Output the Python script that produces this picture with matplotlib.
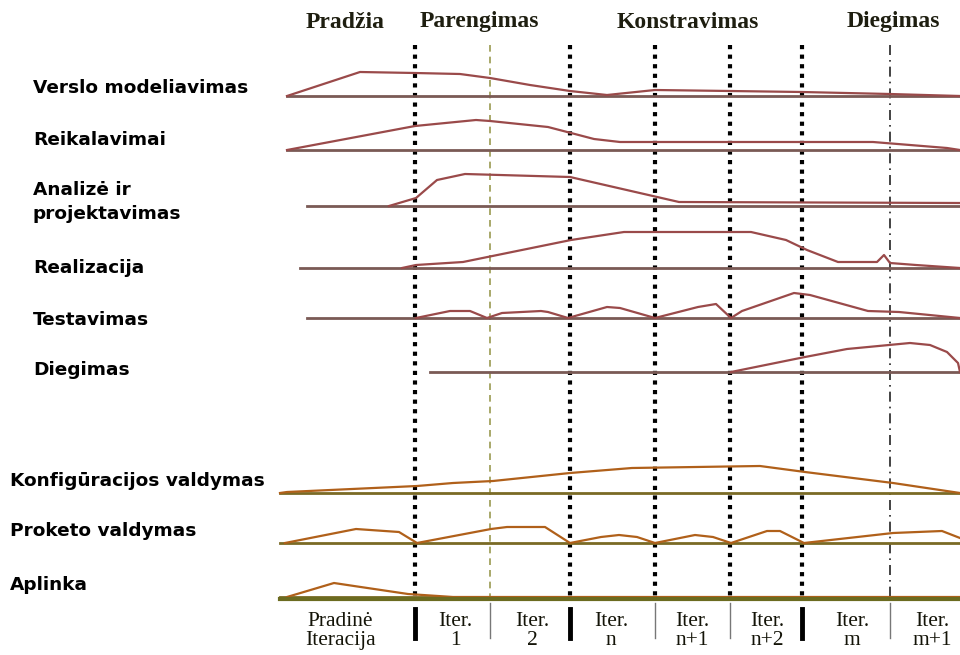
import numpy as np
import matplotlib
matplotlib.use('Agg')
import matplotlib.pyplot as plt

# phases and iterations
phases = ['Pradžia', 'Parengimas', 'Konstravimas', 'Diegimas']
iterations = ['Pradinė\nIteracija', 'Iter.\n1', 'Iter.\n2', 'Iter.\nn', 'Iter.\nn+1',
              'Iter.\nn+2', 'Iter.\nm', 'Iter.\nm+1']

# iteration boundaries (time axis, same units as curves)
bounds_major = [415, 570, 655, 730, 802]
bounds_minor = [490, 890]

# workflow names
workflows = ['Verslo modeliavimas', 'Reikalavimai', 'Analizė ir\nprojektavimas',
             'Realizacija', 'Testavimas', 'Diegimas']
support = ['Konfigūracijos valdymas', 'Proketo valdymas', 'Aplinka']

# effort profiles: time points and effort height
verslo_t = [287, 360, 415, 460, 490, 530, 570, 607, 655, 730, 802, 890, 960]
verslo_e = [0, 24, 23, 22, 18, 11, 5, 1, 6, 5, 4, 2, 0]
reik_t = [287, 415, 476, 490, 548, 571, 594, 620, 873, 947, 960]
reik_e = [0, 24, 30, 29, 23, 17, 11, 8, 8, 2, 0]
anal_t = [389, 416, 437, 465, 570, 679, 960]
anal_e = [0, 8, 26, 32, 29, 4, 3]
real_t = [402, 416, 463, 571, 624, 751, 786, 807, 838, 877, 884, 890, 916, 960]
real_e = [0, 3, 6, 28, 36, 36, 28, 18, 6, 6, 13, 5, 3, 0]
test_t = [416, 450, 470, 487, 502, 541, 548, 568, 607, 620, 655, 698, 716, 731,
          742, 794, 810, 868, 899, 960]
test_e = [0, 7, 7, 0, 5, 7, 6, 0, 11, 10, 0, 11, 14, 0, 7, 25, 23, 7, 6, 0]
dieg_t = [731, 805, 847, 910, 930, 947, 958, 960]
dieg_e = [0, 15, 23, 29, 27, 20, 9, 0]

konf_t = [280, 287, 417, 453, 493, 570, 632, 760, 805, 893, 960]
konf_e = [0, 1, 7, 10, 12, 20, 25, 27, 21, 10, 0]
proj_t = [285, 356, 399, 417, 491, 507, 545, 570, 601, 619, 637, 655, 695, 713,
          731, 767, 780, 804, 893, 942, 960]
proj_e = [0, 14, 11, 0, 14, 16, 16, 0, 6, 8, 6, 0, 8, 6, 0, 12, 12, 0, 10, 12, 5]
apl_t = [287, 334, 354, 408, 453, 960]
apl_e = [0, 14, 11, 3, 0, 0]

# layout
W, H = 960, 655
fig = plt.figure(figsize=(9.6, 6.55), dpi=100)
ax = fig.add_axes([0, 0, 1, 1])
ax.set_xlim(0, W)
ax.set_ylim(H, 0)
ax.axis('off')

serif = 'Liberation Serif'
sans = 'DejaVu Sans'

# vertical iteration lines
for x in bounds_major:
    ax.plot([x, x], [45, 600], color='black', lw=3, ls=(0, (1, 1.3)), zorder=1)
ax.plot([490, 490], [45, 600], color='#9a9a50', lw=1.2, ls=(0, (4, 3)), zorder=1)
ax.plot([890, 890], [45, 600], color='#222222', lw=1.2, ls=(0, (6, 3, 1, 3)), zorder=1)

# phase titles
for name, xc in zip(phases, [345, 479, 688, 893]):
    ax.text(xc, 22, name, ha='center', va='center', fontsize=17,
            fontweight='bold', family=serif, color='#1e1e10')

# main workflows
rows = [(verslo_t, verslo_e, 96, 287), (reik_t, reik_e, 150, 287),
        (anal_t, anal_e, 206, 307), (real_t, real_e, 268, 300),
        (test_t, test_e, 318, 307), (dieg_t, dieg_e, 372, 430)]
label_y = [88, 140, 202, 268, 320, 370]
for (t, e, base, start), name, ly in zip(rows, workflows, label_y):
    ax.plot([start, 960], [base, base], color='#7a5a55', lw=2, zorder=2)
    ax.plot(t, base - np.array(e), color='#9a4a4a', lw=1.6, zorder=3)
    ax.text(33, ly, name, ha='left', va='center', fontsize=13.3,
            fontweight='bold', family=sans, linespacing=1.4)

# supporting workflows
srows = [(konf_t, konf_e, 493), (proj_t, proj_e, 543), (apl_t, apl_e, 597)]
for (t, e, base), name in zip(srows, support):
    ax.plot([280, 960], [base, base], color='#7a6a25', lw=2, zorder=2)
    ax.plot(t, base - np.array(e), color='#b0601a', lw=1.6, zorder=3)
    ax.text(10, base - 12, name, ha='left', va='center', fontsize=13.3,
            fontweight='bold', family=sans)

# bottom axis
ax.plot([280, 960], [599, 599], color='#6b6b20', lw=3, zorder=4)

# iteration separators
for x in [415, 570, 802]:
    ax.plot([x, x], [609, 638], color='black', lw=3.5, zorder=4)
for x in [490, 655, 730, 890]:
    ax.plot([x, x], [603, 638], color='#777777', lw=1, zorder=4)

# iteration labels
for name, xc in zip(iterations, [340, 455, 532, 611, 692, 767, 852, 932]):
    ax.text(xc, 631, name, ha='center', va='center', fontsize=15.5,
            family=serif, color='#141408', linespacing=1.02)

plt.savefig('out.png', dpi=100)
